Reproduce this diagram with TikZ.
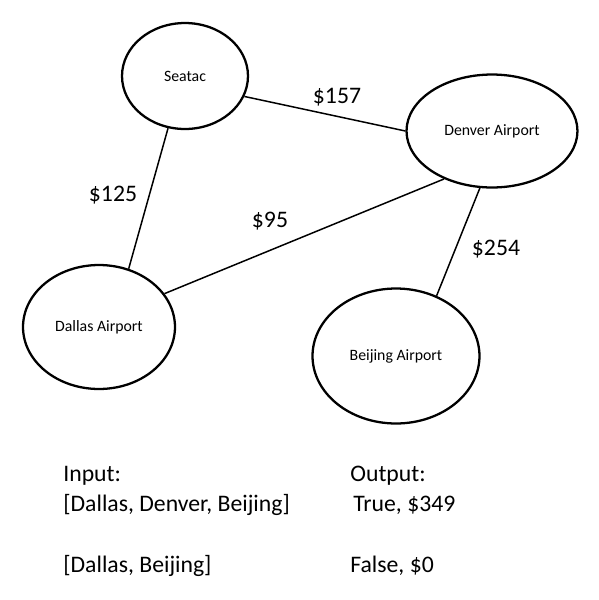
\documentclass[tikz,border=0pt]{standalone}
\usepackage{fontspec}
\setmainfont{Carlito}
\usetikzlibrary{shapes.geometric}
\begin{document}
\begin{tikzpicture}[
    x=0.02cm, y=-0.02cm,
    airport/.style={draw, ellipse, line width=1.3pt, inner sep=0pt,
                    font=\fontsize{9}{11}\selectfont},
    fare/.style={inner sep=0pt, font=\fontsize{13.5}{16}\selectfont},
    leg/.style={line width=0.85pt},
    note/.style={anchor=base west, inner sep=0pt, font=\fontsize{13.5}{16}\selectfont}
]
\useasboundingbox (0,0) rectangle (599,600);

% airports
\node[airport, minimum width=2.52cm, minimum height=2.12cm] (sea) at (185,76)  {Seatac};
\node[airport, minimum width=3.42cm, minimum height=2.26cm] (den) at (492,131) {Denver Airport};
\node[airport, minimum width=3.04cm, minimum height=2.48cm] (dal) at (99,327)  {Dallas Airport};
\node[airport, minimum width=3.34cm, minimum height=2.70cm] (bei) at (396,356) {Beijing Airport};

% flights
\draw[leg] (sea.341) -- (den.180);
\draw[leg] (sea.252) -- (dal.63);
\draw[leg] (dal.27) -- (den.225);
\draw[leg] (den.258) -- (bei.56);

\node[fare] (f157) at (337,97)  {\$157};
\node[fare] (f125) at (113,195) {\$125};
\node[fare] (f95)  at (270,221) {\$95};
\node[fare] (f254) at (496,249) {\$254};

% examples
\node[note] (inp)  at (63,481)  {Input:};
\node[note] (in1)  at (63,511)  {[Dallas, Denver, Beijing]};
\node[note] (in2)  at (63,572)  {[Dallas, Beijing]};
\node[note] (outp) at (350,481) {Output:};
\node[note] (out1) at (353,511) {True, \$349};
\node[note] (out2) at (350,572) {False, \$0};
\end{tikzpicture}
\end{document}
